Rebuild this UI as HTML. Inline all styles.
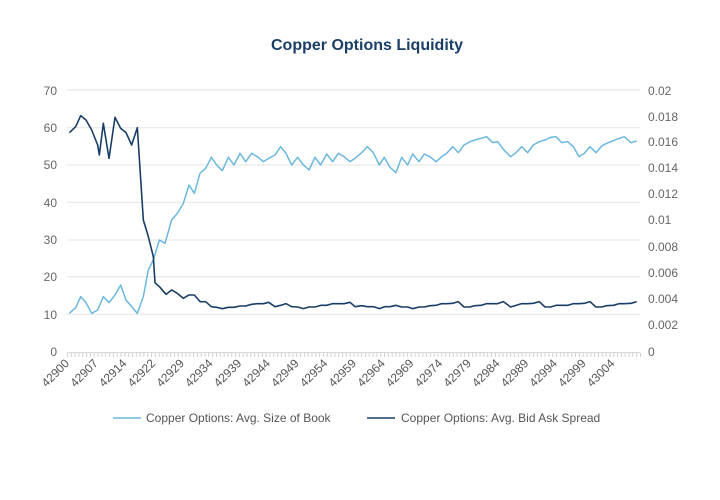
<!DOCTYPE html>
<html><head><meta charset="utf-8"><style>
html,body{margin:0;padding:0;background:#fff;}
svg{display:block;font-family:"Liberation Sans",sans-serif;}
</style></head><body>
<svg width="720" height="500" viewBox="0 0 720 500" xmlns="http://www.w3.org/2000/svg">
<defs>
<pattern id="tk" x="67" y="353" width="3.82" height="4" patternUnits="userSpaceOnUse">
<rect x="0" y="0" width="1" height="4" fill="#d0d0d0"/>
</pattern>
</defs>
<rect width="720" height="500" fill="#fff"/>
<text x="367" y="50" text-anchor="middle" font-size="16" font-weight="bold" fill="#1a3e66">Copper Options Liquidity</text>
<g stroke="#e3e3e3" stroke-width="1">
<line x1="67" x2="640" y1="90" y2="90"/><line x1="67" x2="640" y1="127.7" y2="127.7"/>
<line x1="67" x2="640" y1="165" y2="165"/><line x1="67" x2="640" y1="202.3" y2="202.3"/>
<line x1="67" x2="640" y1="240" y2="240"/><line x1="67" x2="640" y1="276.7" y2="276.7"/>
<line x1="67" x2="640" y1="314.3" y2="314.3"/>
</g>
<line x1="67" x2="640" y1="352.5" y2="352.5" stroke="#d8d8d8"/>
<rect x="67" y="353" width="574" height="4" fill="url(#tk)"/>
<g font-size="12" fill="#666" text-anchor="end">
<text x="57" y="95">70</text><text x="57" y="132">60</text><text x="57" y="169">50</text><text x="57" y="207">40</text><text x="57" y="244">30</text><text x="57" y="281">20</text><text x="57" y="319">10</text><text x="57" y="356">0</text>
</g>
<g font-size="12" fill="#666">
<text x="648" y="95">0.02</text><text x="648" y="121">0.018</text><text x="648" y="146">0.016</text><text x="648" y="172">0.014</text><text x="648" y="198">0.012</text><text x="648" y="224">0.01</text><text x="648" y="251">0.008</text><text x="648" y="277">0.006</text><text x="648" y="303">0.004</text><text x="648" y="329">0.002</text><text x="648" y="356">0</text>
</g>
<g font-size="12" fill="#555" text-anchor="end">
<text x="70" y="364" transform="rotate(-45 70 364)">42900</text>
<text x="98.7" y="364" transform="rotate(-45 98.7 364)">42907</text>
<text x="127.4" y="364" transform="rotate(-45 127.4 364)">42914</text>
<text x="156.1" y="364" transform="rotate(-45 156.1 364)">42922</text>
<text x="184.8" y="364" transform="rotate(-45 184.8 364)">42929</text>
<text x="213.5" y="364" transform="rotate(-45 213.5 364)">42934</text>
<text x="242.2" y="364" transform="rotate(-45 242.2 364)">42939</text>
<text x="270.9" y="364" transform="rotate(-45 270.9 364)">42944</text>
<text x="299.6" y="364" transform="rotate(-45 299.6 364)">42949</text>
<text x="328.3" y="364" transform="rotate(-45 328.3 364)">42954</text>
<text x="357" y="364" transform="rotate(-45 357 364)">42959</text>
<text x="385.7" y="364" transform="rotate(-45 385.7 364)">42964</text>
<text x="414.4" y="364" transform="rotate(-45 414.4 364)">42969</text>
<text x="443.1" y="364" transform="rotate(-45 443.1 364)">42974</text>
<text x="471.8" y="364" transform="rotate(-45 471.8 364)">42979</text>
<text x="500.5" y="364" transform="rotate(-45 500.5 364)">42984</text>
<text x="529.2" y="364" transform="rotate(-45 529.2 364)">42989</text>
<text x="557.9" y="364" transform="rotate(-45 557.9 364)">42994</text>
<text x="586.6" y="364" transform="rotate(-45 586.6 364)">42999</text>
<text x="615.3" y="364" transform="rotate(-45 615.3 364)">43004</text>
</g>
<g fill="none" stroke-linejoin="round">
<g transform="translate(40,80) scale(0.33333)">
<polyline vector-effect="non-scaling-stroke" stroke="#6bb8de" stroke-width="1.5" points="88,700 107,683 122,650 138,668 155,700 173,690 190,650 207,668 225,645 242,615 258,660 275,680 292,700 310,650 325,570 340,540 358,480 375,490 395,420 412,400 430,370 447,315 463,340 480,280 497,265 514,232 530,255 547,272 565,232 582,255 600,220 617,245 635,220 652,230 670,245 686,235 705,225 722,200 738,220 755,255 773,232 790,255 807,270 825,232 842,255 860,222 878,245 895,220 912,230 930,245 945,235 965,218 982,200 1000,218 1018,255 1033,232 1050,262 1068,278 1085,232 1103,255 1118,222 1137,245 1153,222 1170,230 1188,245 1205,230 1220,220 1238,200 1255,218 1272,195 1290,185 1305,180 1323,175 1340,170 1358,188 1373,185 1390,208 1412,230 1428,218 1445,200 1463,218 1480,195 1498,185 1515,180 1532,172 1548,170 1565,188 1583,185 1600,200 1617,230 1633,220 1650,200 1668,218 1685,198 1700,190 1720,182 1738,175 1753,170 1773,188 1790,183"/>
<polyline vector-effect="non-scaling-stroke" stroke="#1a3e66" stroke-width="1.6" points="88,158 107,140 122,107 138,120 155,150 173,195 178,225 190,130 207,235 225,112 242,145 258,158 275,195 292,143 310,420 325,470 340,530 345,608 360,622 378,643 395,630 412,640 430,655 447,645 463,645 480,665 497,665 514,680 530,682 547,686 565,682 582,682 600,678 617,678 635,673 652,671 670,671 686,667 705,680 722,676 738,671 755,680 773,681 790,686 807,681 825,681 842,676 860,676 878,671 895,671 912,671 930,667 945,680 965,677 982,680 1000,680 1018,686 1035,680 1050,680 1068,676 1085,681 1103,681 1118,686 1137,681 1153,681 1170,677 1188,676 1205,671 1220,671 1238,670 1255,665 1272,681 1290,681 1305,677 1323,676 1340,671 1358,671 1373,671 1390,665 1412,681 1428,676 1445,671 1463,671 1480,670 1498,665 1515,681 1532,681 1548,676 1565,676 1583,676 1600,671 1617,671 1633,670 1650,665 1668,681 1685,681 1700,677 1720,676 1738,671 1753,671 1773,670 1790,665"/>
</g>
</g>
<line x1="113" x2="141" y1="418" y2="418" stroke="#6bb8de" stroke-width="1.5"/>
<text x="146" y="422" font-size="12" fill="#555">Copper Options: Avg. Size of Book</text>
<line x1="367" x2="395" y1="418" y2="418" stroke="#1a3e66" stroke-width="1.6"/>
<text x="401" y="422" font-size="12" fill="#555">Copper Options: Avg. Bid Ask Spread</text>
</svg>
</body></html>
